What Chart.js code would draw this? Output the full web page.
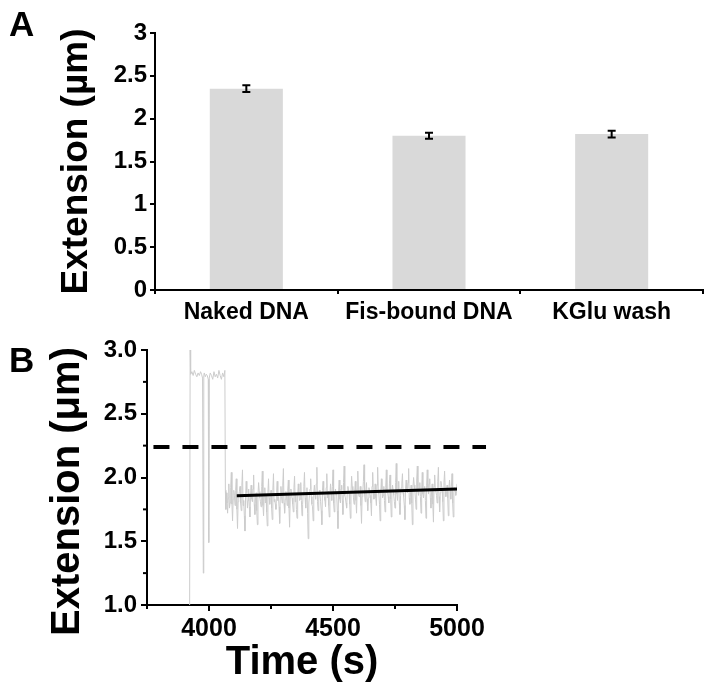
<!DOCTYPE html>
<html>
<head>
<meta charset="utf-8">
<script src="https://cdn.jsdelivr.net/npm/chart.js@4.4.1/dist/chart.umd.min.js"></script>
<style>
  body { margin: 0; background: #fff; }
  #wrap { position: relative; width: 714px; height: 694px; }
  canvas { position: absolute; left: 0; }
  .panel { position: absolute; font: bold 35px "Liberation Sans", Arial, sans-serif; line-height: 1; color: #000; }
</style>
</head>
<body>
<div id="wrap">
  <canvas id="chartA" width="714" height="330" style="top:0"></canvas>
  <canvas id="chartB" width="714" height="364" style="top:330px"></canvas>
  <div class="panel" style="left:9px;top:6px">A</div>
  <div class="panel" style="left:9px;top:342px">B</div>
</div>
<script>
// Panel A data
const categories = ['Naked DNA', 'Fis-bound DNA', 'KGlu wash'];
const extensionMeans = [2.35, 1.80, 1.82];
const extensionErrors = [0.04, 0.035, 0.04];
const yTicksA = [0, 0.5, 1, 1.5, 2, 2.5, 3];

// Panel B data
const xTicksB = [4000, 4500, 5000];
const yTicksB = [1.0, 1.5, 2.0, 2.5, 3.0];
const minorXB = [3750, 4250, 4750];
const minorYB = [1.25, 1.75, 2.25, 2.75];
const yTitleB = 'Extension (μm)';

// trace before the drop (time, extension)
const traceHeadT = [3922, 3924, 3926, 3931, 3936, 3941, 3946, 3951, 3956, 3961, 3966, 3970, 3974, 3977, 3979, 3981, 3985, 3989, 3993, 3997, 3999, 4001, 4005, 4010, 4015, 4020, 4025, 4030, 4035, 4040, 4045, 4050, 4055, 4060, 4064, 4066, 4068];
const traceHeadY = [1.00, 3.00, 2.81, 2.83, 2.80, 2.84, 2.81, 2.79, 2.82, 2.80, 2.83, 2.81, 2.78, 1.25, 2.80, 2.82, 2.79, 2.81, 2.80, 2.77, 1.49, 2.78, 2.82, 2.80, 2.77, 2.83, 2.79, 2.81, 2.78, 2.84, 2.80, 2.77, 2.82, 2.79, 2.84, 1.90, 1.75];

// noisy trace after the drop, sampled every 2.5 s from 4070 s
const noiseStart = 4070;
const noiseStep = 2.5;
const noiseY = [
  1.88,1.80,1.72,1.84,1.95,1.76,1.80,1.92,2.04,1.79,1.66,1.83,1.90,1.86,1.78,1.90,1.99,1.75,1.60,1.81,1.86,1.89,1.93,1.80,1.74,1.94,2.06,1.78,1.82,1.70,1.58,1.85,1.97,1.88,1.76,1.82,1.91,1.77,1.69,1.87,
  1.94,1.83,1.81,1.91,2.02,1.79,1.71,1.84,1.88,1.74,1.63,1.86,1.96,1.89,1.84,1.81,1.77,1.93,2.05,1.78,1.70,1.85,1.92,1.80,1.86,1.73,1.62,1.88,1.99,1.84,1.79,1.86,1.90,1.76,1.67,1.90,2.03,1.81,1.83,1.79,
  1.75,1.88,1.97,1.82,1.85,1.77,1.64,1.87,1.93,1.85,1.80,1.94,2.07,1.80,1.72,1.83,1.89,1.86,1.78,1.90,1.98,1.76,1.61,1.84,1.91,1.89,1.84,1.79,1.73,1.92,2.01,1.81,1.87,1.75,1.68,1.86,1.95,1.88,1.82,1.83,
  1.96,1.82,1.70,1.79,1.88,1.93,2.04,1.84,1.76,1.87,1.92,1.72,1.52,1.80,1.86,1.91,1.99,1.85,1.79,1.77,1.66,1.88,1.94,1.86,1.83,1.95,2.08,1.81,1.74,1.83,1.90,1.87,1.81,1.74,1.63,1.90,1.97,1.89,1.85,1.82,
  1.77,1.92,2.03,1.84,1.89,1.78,1.69,1.86,1.95,1.88,1.82,1.93,2.06,1.80,1.73,1.85,1.91,1.87,1.86,1.74,1.60,1.89,1.98,1.83,1.80,1.91,1.94,1.82,1.71,1.96,2.09,1.86,1.84,1.80,1.76,1.88,1.93,1.90,1.87,1.79,
  1.68,1.87,2.01,1.93,1.90,1.84,1.79,1.89,1.97,1.82,1.72,1.91,2.05,1.88,1.85,1.86,1.93,1.78,1.64,1.85,1.88,1.97,2.10,1.87,1.81,1.90,1.96,1.83,1.74,1.84,1.92,1.89,1.86,1.80,1.70,1.93,2.04,1.88,1.83,1.86,
  1.95,1.84,1.78,1.94,2.08,1.90,1.87,1.79,1.66,1.87,1.99,1.91,1.84,1.86,1.93,1.82,1.73,1.92,2.06,1.88,1.89,1.85,1.80,1.95,2.02,1.83,1.69,1.89,1.94,1.90,1.86,1.81,1.76,1.96,2.11,1.87,1.82,1.91,1.97,1.80,
  1.71,1.86,1.92,1.95,2.03,1.88,1.85,1.78,1.67,1.91,1.98,1.90,1.88,1.96,2.07,1.84,1.79,1.87,1.94,1.80,1.63,1.92,2.00,1.94,1.90,1.83,1.75,1.98,2.09,1.89,1.86,1.92,1.96,1.85,1.72,1.90,2.04,1.87,1.84,1.91,
  1.93,1.82,1.68,1.94,2.06,1.92,1.87,1.95,1.99,1.84,1.76,1.89,1.95,1.79,1.65,1.93,2.02,1.90,1.89,1.86,1.80,1.97,2.08,1.85,1.73,1.88,1.97,1.94,1.91,1.81,1.66,1.96,2.05,1.90,1.85,1.89,1.94,1.84,1.70,1.92,
  1.98,1.90,1.83,1.93,2.03,1.80,1.69,1.88,1.92,1.91,1.86,1.89,1.95
];

// linear fit and naked-DNA reference level
const fitT = [4112, 5000];
const fitY = [1.857, 1.91];
const nakedT = [3776, 5117];
const nakedY = [2.24, 2.24];

Chart.defaults.font.family = '"Liberation Sans", Arial, sans-serif';
Chart.defaults.font.weight = 'bold';
Chart.defaults.color = '#000';

const errorBars = {
  id: 'errorBars',
  afterDatasetsDraw(chart) {
    const ctx = chart.ctx;
    const y = chart.scales.y;
    const meta = chart.getDatasetMeta(0);
    ctx.save();
    ctx.strokeStyle = '#000';
    ctx.lineWidth = 2;
    meta.data.forEach((bar, i) => {
      const top = y.getPixelForValue(extensionMeans[i] + extensionErrors[i]);
      const bot = y.getPixelForValue(extensionMeans[i] - extensionErrors[i]);
      ctx.beginPath();
      ctx.moveTo(bar.x, top); ctx.lineTo(bar.x, bot);
      ctx.moveTo(bar.x - 4, top); ctx.lineTo(bar.x + 4, top);
      ctx.moveTo(bar.x - 4, bot); ctx.lineTo(bar.x + 4, bot);
      ctx.stroke();
    });
    ctx.restore();
  }
};

new Chart(document.getElementById('chartA'), {
  type: 'bar',
  data: {
    labels: categories,
    datasets: [{
      data: extensionMeans,
      backgroundColor: '#d9d9d9',
      barPercentage: 0.4,
      categoryPercentage: 1
    }]
  },
  options: {
    responsive: false,
    animation: false,
    layout: { padding: { top: 33, right: 11, left: 0, bottom: 0 } },
    plugins: { legend: { display: false }, tooltip: { enabled: false } },
    scales: {
      x: {
        afterFit: s => { s.height = 40; },
        border: { color: '#000', width: 2 },
        grid: { drawOnChartArea: false, color: '#000', lineWidth: 2, tickLength: 4 },
        ticks: { font: { size: 23 }, padding: 5, maxRotation: 0 }
      },
      y: {
        min: 0, max: 3,
        afterFit: s => { s.width = 155; },
        afterBuildTicks: s => { s.ticks = yTicksA.map(v => ({ value: v })); },
        border: { color: '#000', width: 2 },
        grid: { drawOnChartArea: false, color: '#000', lineWidth: 2, tickLength: 5 },
        ticks: { font: { size: 24 }, padding: 3, callback: v => String(v) },
        title: { display: true, text: 'Extension (µm)', font: { size: 37 }, padding: { top: 55, bottom: 0 } }
      }
    }
  },
  plugins: [errorBars]
});

const minorTicks = {
  id: 'minorTicks',
  afterDraw(chart) {
    const ctx = chart.ctx;
    const { x, y } = chart.scales;
    ctx.save();
    ctx.strokeStyle = '#000';
    ctx.lineWidth = 2;
    minorXB.forEach(v => {
      const px = x.getPixelForValue(v);
      ctx.beginPath(); ctx.moveTo(px, y.bottom); ctx.lineTo(px, y.bottom + 4); ctx.stroke();
    });
    minorYB.forEach(v => {
      const py = y.getPixelForValue(v);
      ctx.beginPath(); ctx.moveTo(x.left, py); ctx.lineTo(x.left - 4, py); ctx.stroke();
    });
    ctx.restore();
  }
};

// y title of panel B sits lower than the plot centre in the original
const sideTitle = {
  id: 'sideTitle',
  afterDraw(chart) {
    const ctx = chart.ctx;
    const y = chart.scales.y;
    ctx.save();
    ctx.font = 'bold 40px "Liberation Sans", Arial, sans-serif';
    ctx.fillStyle = '#000';
    ctx.textAlign = 'center';
    ctx.textBaseline = 'middle';
    ctx.translate(68, (y.top + y.bottom) / 2 + 14);
    ctx.rotate(-Math.PI / 2);
    ctx.fillText(yTitleB, 0, 0);
    ctx.restore();
  }
};

const tracePoints = traceHeadT.map((t, i) => ({ x: t, y: traceHeadY[i] }))
  .concat(noiseY.map((v, i) => ({ x: noiseStart + i * noiseStep, y: v })));

new Chart(document.getElementById('chartB'), {
  type: 'line',
  data: {
    datasets: [
      {
        data: fitT.map((t, i) => ({ x: t, y: fitY[i] })),
        borderColor: '#000', borderWidth: 3, pointRadius: 0
      },
      {
        data: nakedT.map((t, i) => ({ x: t, y: nakedY[i] })),
        borderColor: '#000', borderWidth: 4, borderDash: [16, 13], pointRadius: 0, clip: false
      },
      {
        data: tracePoints,
        borderColor: '#cccccc', borderWidth: 1, pointRadius: 0
      }
    ]
  },
  options: {
    responsive: false,
    animation: false,
    layout: { padding: { top: 20, right: 257, left: 0, bottom: 0 } },
    plugins: { legend: { display: false }, tooltip: { enabled: false } },
    scales: {
      x: {
        type: 'linear', min: 3750, max: 5000,
        afterFit: s => { s.height = 89; },
        afterBuildTicks: s => { s.ticks = xTicksB.map(v => ({ value: v })); },
        border: { color: '#000', width: 2 },
        grid: { drawOnChartArea: false, color: '#000', lineWidth: 2, tickLength: 6 },
        ticks: { font: { size: 25 }, padding: 3, maxRotation: 0, callback: v => String(v) },
        title: { display: true, text: 'Time (s)', font: { size: 40 }, padding: { top: 0, bottom: 7 } }
      },
      y: {
        min: 1, max: 3,
        afterFit: s => { s.width = 147; },
        afterBuildTicks: s => { s.ticks = yTicksB.map(v => ({ value: v })); },
        border: { color: '#000', width: 2 },
        grid: { drawOnChartArea: false, color: '#000', lineWidth: 2, tickLength: 6 },
        ticks: { font: { size: 24 }, padding: 4, callback: v => v.toFixed(1) }
      }
    }
  },
  plugins: [minorTicks, sideTitle]
});
</script>
</body>
</html>
